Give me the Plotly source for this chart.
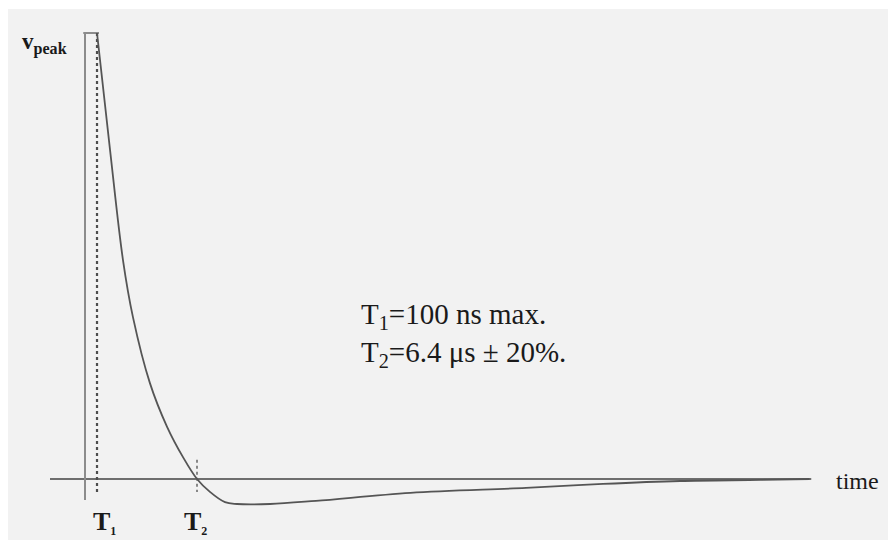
import plotly.graph_objects as go

# Waveform (time in µs, voltage normalised to v_peak)
rise_t = [0.0, 0.0]
rise_v = [-0.047, 1.0]
cap_t = [-0.1, 0.8]
cap_v = [1.0, 1.0]
decay_t = [0.686, 1.43, 2.17, 2.74, 3.71, 4.69, 5.6, 6.4, 7.14, 8.0, 8.69, 10.57, 13.2,
           18.6, 25.2, 29.6, 34.0, 38.6, 41.4]
decay_v = [1.0, 0.738, 0.491, 0.363, 0.215, 0.117, 0.049, 0.0, -0.029, -0.052, -0.056,
           -0.056, -0.049, -0.031, -0.020, -0.011, -0.0045, -0.002, 0.0]
axis_t = [-2.0, 41.5]
axis_v = [0.0, 0.0]
t1_line_t = [0.686, 0.686]
t1_line_v = [1.0, -0.036]
t2_line_t = [6.4, 6.4]
t2_line_v = [0.043, -0.029]

FONT = "Liberation Serif"

fig = go.Figure()
fig.add_trace(go.Scatter(x=axis_t, y=axis_v, mode="lines",
                         line=dict(color="#6e6e6e", width=2), hoverinfo="skip"))
fig.add_trace(go.Scatter(x=rise_t, y=rise_v, mode="lines",
                         line=dict(color="#8c8c8c", width=2), hoverinfo="skip"))
fig.add_trace(go.Scatter(x=cap_t, y=cap_v, mode="lines",
                         line=dict(color="#8c8c8c", width=2), hoverinfo="skip"))
fig.add_trace(go.Scatter(x=t1_line_t, y=t1_line_v, mode="lines",
                         line=dict(color="#4d4d4d", width=2.2, dash="dot"), hoverinfo="skip"))
fig.add_trace(go.Scatter(x=t2_line_t, y=t2_line_v, mode="lines",
                         line=dict(color="#666666", width=1.5, dash="dot"), hoverinfo="skip"))
fig.add_trace(go.Scatter(x=decay_t, y=decay_v, mode="lines", line_shape="spline",
                         line=dict(color="#555555", width=1.8), hoverinfo="skip"))

ann = [
    dict(x=-3.7, y=1.0135, xanchor="left", yanchor="top",
         text="<b>v</b><sub><b>peak</b></sub>", font=dict(size=23)),
    dict(x=1.1, y=-0.058, xanchor="center", yanchor="top",
         text="<b>T</b><sub><b><span style='font-size:12px'>1</span></b></sub>",
         font=dict(size=26)),
    dict(x=6.3, y=-0.058, xanchor="center", yanchor="top",
         text="<b>T</b><sub><b><span style='font-size:12px'>2</span></b></sub>",
         font=dict(size=26)),
    dict(x=(834 - 85) / 17.5, y=-0.004, xanchor="left", yanchor="middle",
         text="time", font=dict(size=24)),
    dict(x=(359 - 85) / 17.5, y=(479 - 296) / 446, xanchor="left", yanchor="top",
         align="left",
         text="T<sub>1</sub>=100 ns max.<br>T<sub>2</sub>=6.4 μs ± 20%.",
         font=dict(size=29)),
]
for a in ann:
    a.update(showarrow=False, xref="x", yref="y")
    a["font"].update(family=FONT, color="#1a1a1a")

# page body has an 8px margin, so the figure is sized to the remaining window
fig.update_layout(
    width=888, height=534,
    margin=dict(l=0, r=0, t=1, b=2),
    paper_bgcolor="white", plot_bgcolor="#f2f2f2",
    showlegend=False,
    annotations=ann,
    xaxis=dict(range=[(8 - 85) / 17.5, (896 - 85) / 17.5], visible=False, fixedrange=True),
    yaxis=dict(range=[(479 - 540) / 446, (479 - 9) / 446], visible=False, fixedrange=True),
)
fig.write_html("out.html")
